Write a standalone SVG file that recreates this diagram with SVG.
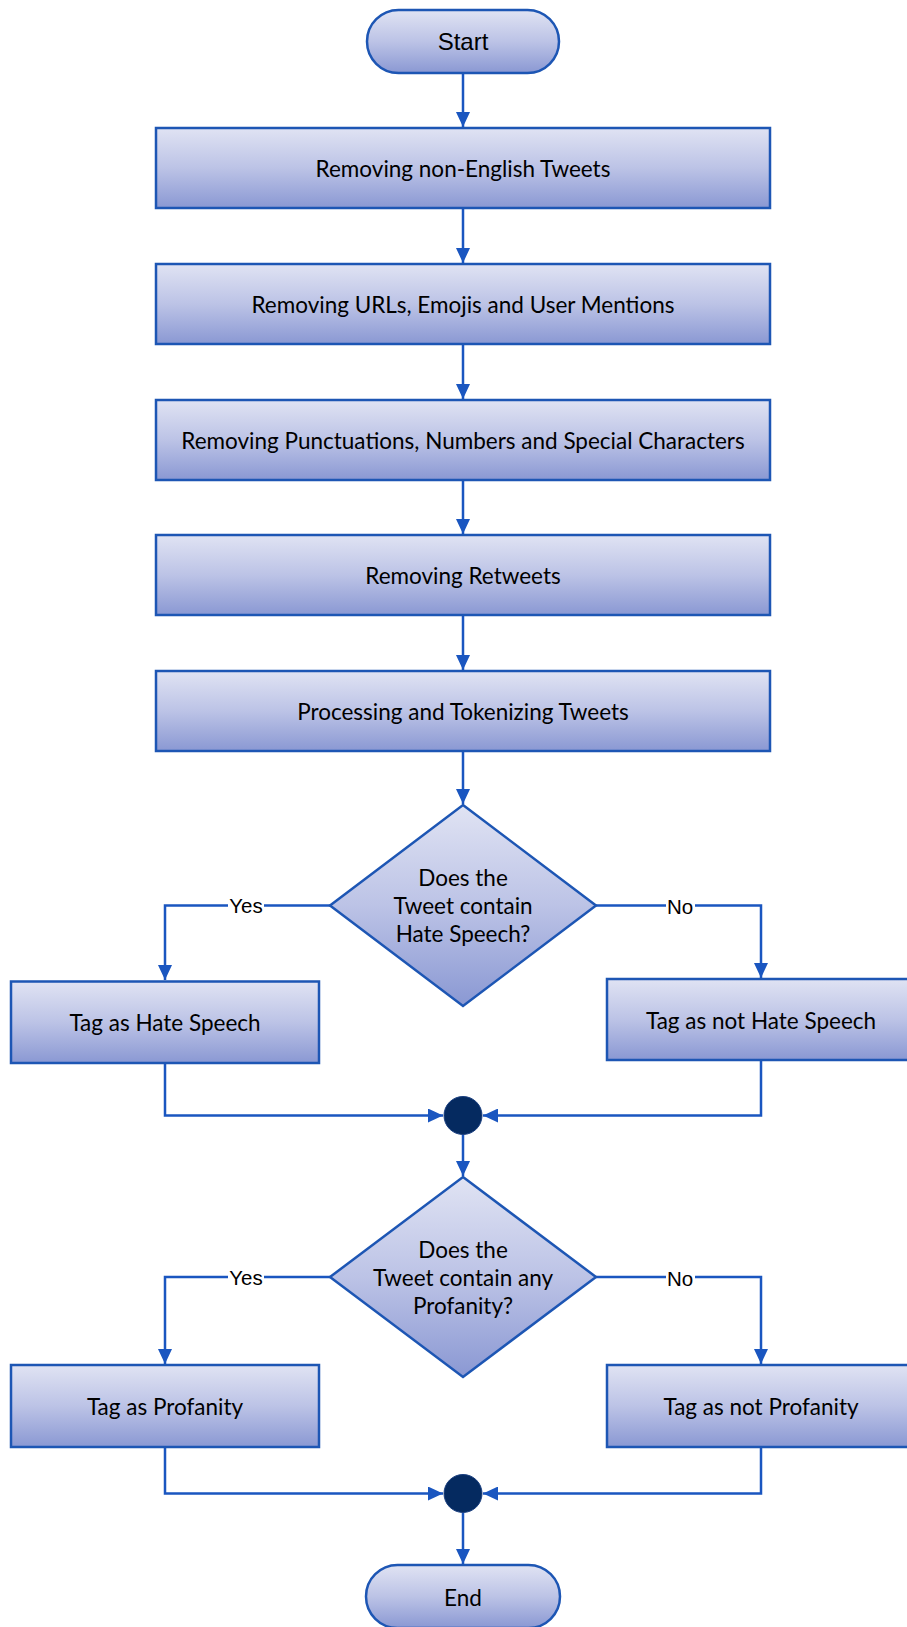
<svg xmlns="http://www.w3.org/2000/svg" width="907" height="1627" viewBox="0 0 907 1627">
<defs>
<linearGradient id="g" x1="0" y1="0" x2="0" y2="1">
<stop offset="0" stop-color="#e0e3f3"/>
<stop offset="0.5" stop-color="#bcc3e6"/>
<stop offset="1" stop-color="#8a98d3"/>
</linearGradient>
<marker id="arr" markerUnits="userSpaceOnUse" markerWidth="16" markerHeight="14" refX="15" refY="7" orient="auto">
<path d="M0,0 L15,7 L0,14 Z" fill="#1a56c0"/>
</marker>
<style>
.node{fill:url(#g);stroke:#1d56b4;stroke-width:2.5}
.t{font-family:Lato,"Noto Sans",sans-serif;font-size:22.5px;fill:#000;text-anchor:middle;dominant-baseline:central}
.ta{font-family:"Liberation Sans",Arial,sans-serif;font-size:24px;fill:#000;text-anchor:middle;dominant-baseline:central}
.c{fill:none;stroke:#1a56c0;stroke-width:2.5}
.lbl{font-family:"Liberation Sans",Arial,sans-serif;font-size:20.5px;fill:#000;text-anchor:middle;dominant-baseline:central}
.dot{fill:#052a60;stroke:#1a3f80;stroke-width:1}
</style>
</defs>
<rect width="907" height="1627" fill="#fff"/>
<g id="connectors">
<path class="c" d="M463,73 V127" marker-end="url(#arr)"/>
<path class="c" d="M463,208 V263" marker-end="url(#arr)"/>
<path class="c" d="M463,344 V399" marker-end="url(#arr)"/>
<path class="c" d="M463,480 V534" marker-end="url(#arr)"/>
<path class="c" d="M463,615 V670" marker-end="url(#arr)"/>
<path class="c" d="M463,751 V804" marker-end="url(#arr)"/>
<path class="c" d="M330,905.5 H165 V980" marker-end="url(#arr)"/>
<path class="c" d="M596,905.5 H761 V978" marker-end="url(#arr)"/>
<path class="c" d="M165,1063 V1115.5 H443" marker-end="url(#arr)"/>
<path class="c" d="M761,1060 V1115.5 H483" marker-end="url(#arr)"/>
<path class="c" d="M463,1134.5 V1176" marker-end="url(#arr)"/>
<path class="c" d="M330,1277 H165 V1364" marker-end="url(#arr)"/>
<path class="c" d="M596,1277 H761 V1364" marker-end="url(#arr)"/>
<path class="c" d="M165,1447 V1493.5 H443" marker-end="url(#arr)"/>
<path class="c" d="M761,1447 V1493.5 H483" marker-end="url(#arr)"/>
<path class="c" d="M463,1512.5 V1564" marker-end="url(#arr)"/>
<rect x="228" y="894" width="36" height="23" fill="#fff"/>
<text class="lbl" x="246" y="905">Yes</text>
<rect x="666" y="894" width="29" height="23" fill="#fff"/>
<text class="lbl" x="680" y="906">No</text>
<rect x="228" y="1266" width="36" height="23" fill="#fff"/>
<text class="lbl" x="246" y="1277">Yes</text>
<rect x="666" y="1266" width="29" height="23" fill="#fff"/>
<text class="lbl" x="680" y="1278">No</text>
</g>
<g id="start"><rect class="node" x="367" y="10" width="192" height="63" rx="31.5"/><text class="ta" x="463" y="41">Start</text></g>
<g id="step1"><rect class="node" x="156" y="128" width="614" height="80"/><text class="t" x="463" y="168">Removing non-English Tweets</text></g>
<g id="step2"><rect class="node" x="156" y="264" width="614" height="80"/><text class="t" x="463" y="304">Removing URLs, Emojis and User Mentions</text></g>
<g id="step3"><rect class="node" x="156" y="400" width="614" height="80"/><text class="t" x="463" y="440">Removing Punctuations, Numbers and Special Characters</text></g>
<g id="step4"><rect class="node" x="156" y="535" width="614" height="80"/><text class="t" x="463" y="575">Removing Retweets</text></g>
<g id="step5"><rect class="node" x="156" y="671" width="614" height="80"/><text class="t" x="463" y="711">Processing and Tokenizing Tweets</text></g>
<g id="decision1"><path class="node" d="M463,805 L596,905.5 L463,1006 L330,905.5 Z"/>
<text class="t" x="463" y="877">Does the</text><text class="t" x="463" y="905">Tweet contain</text><text class="t" x="463" y="933">Hate Speech?</text></g>
<g id="hate"><rect class="node" x="11" y="981.5" width="308" height="81.5"/><text class="t" x="165" y="1022">Tag as Hate Speech</text></g>
<g id="nothate"><rect class="node" x="607" y="979" width="308" height="81"/><text class="t" x="761" y="1020">Tag as not Hate Speech</text></g>
<g id="merge1"><circle class="dot" cx="463" cy="1115.5" r="19"/></g>
<g id="decision2"><path class="node" d="M463,1177 L596,1277 L463,1377 L330,1277 Z"/>
<text class="t" x="463" y="1249">Does the</text><text class="t" x="463" y="1277">Tweet contain any</text><text class="t" x="463" y="1305">Profanity?</text></g>
<g id="prof"><rect class="node" x="11" y="1365" width="308" height="82"/><text class="t" x="165" y="1406">Tag as Profanity</text></g>
<g id="notprof"><rect class="node" x="607" y="1365" width="308" height="82"/><text class="t" x="761" y="1406">Tag as not Profanity</text></g>
<g id="merge2"><circle class="dot" cx="463" cy="1493.5" r="19"/></g>
<g id="end"><rect class="node" x="366" y="1565" width="194" height="63" rx="31.5"/><text class="t" x="463" y="1597">End</text></g>
</svg>
